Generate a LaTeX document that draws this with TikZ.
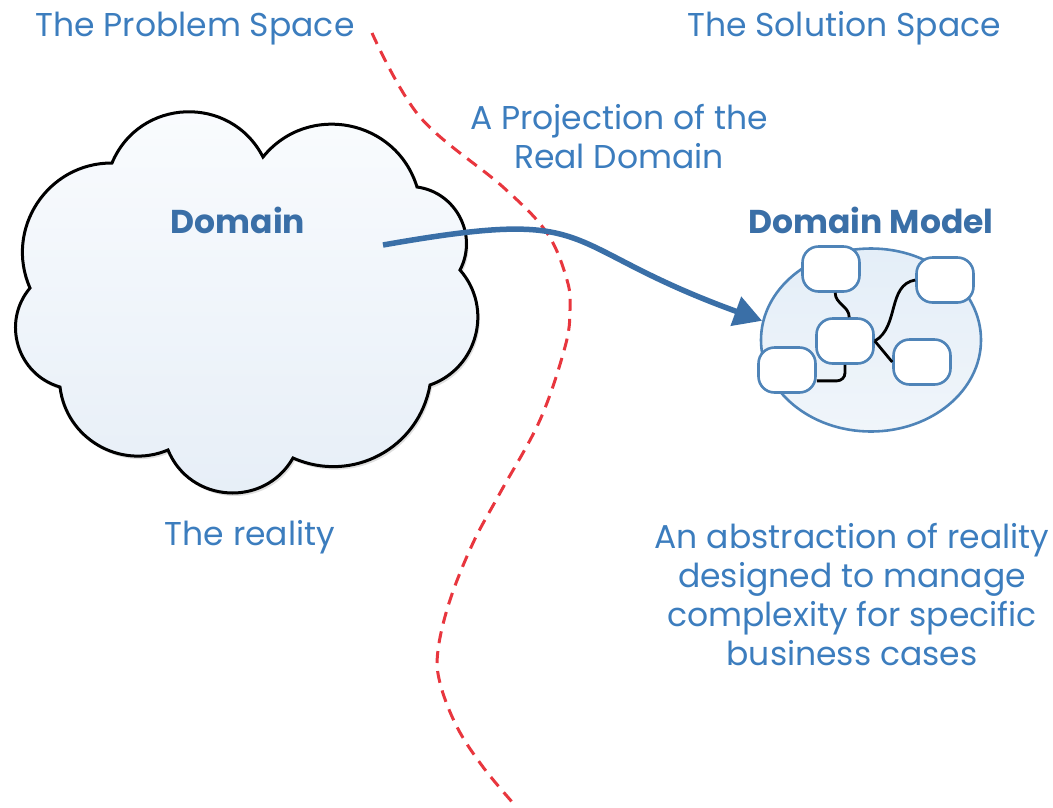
\documentclass[tikz,border=0pt]{standalone}
\usepackage{fontspec}
\setmainfont{Poppins}
\usetikzlibrary{shapes.geometric,arrows.meta,shadows}
\definecolor{txtblue}{HTML}{3C7DBE}
\definecolor{arrblue}{HTML}{3A6FA7}
\definecolor{boxblue}{HTML}{4F84B8}
\definecolor{cutred}{HTML}{E8363E}
\definecolor{cloudtop}{HTML}{FAFCFE}
\definecolor{cloudbot}{HTML}{E6EEF7}
\definecolor{modeltop}{HTML}{E4EEF8}
\definecolor{modelbot}{HTML}{F0F5FA}

\begin{document}
\begin{tikzpicture}[x=1pt,y=1pt,
	label/.style={text=txtblue, font=\fontsize{33}{39}\selectfont, align=center},
	title/.style={text=arrblue, font=\fontsize{33}{39}\selectfont\bfseries},
	entity/.style={draw=boxblue, line width=2.6pt, fill=white, rounded corners=16pt,
		minimum width=57pt, minimum height=45pt, inner sep=0pt},
	link/.style={black, line width=2.8pt}]
	\useasboundingbox (0,0) rectangle (1053,-807);
	
	% the cloud, cusp to cusp, clockwise
	\draw[black, line width=3pt, top color=cloudtop, bottom color=cloudbot,
		drop shadow={opacity=0.25, shadow xshift=2pt, shadow yshift=-3pt}]
		(112,-163) to[bend left=65, looseness=1.20] (263,-157)
		to[bend left=62, looseness=1.16] (417,-187)
		to[bend left=55, looseness=1.08] (460,-270)
		to[bend left=56, looseness=1.09] (430,-385)
		to[bend left=52, looseness=1.06] (293,-458)
		to[bend left=64, looseness=1.18] (168,-450)
		to[bend left=53, looseness=1.06] (60,-387)
		to[bend left=57, looseness=1.10] (30,-288)
		to[bend left=57, looseness=1.10] (112,-163) -- cycle;
	
	% border between the two spaces
	\draw[cutred, line width=3pt, dash pattern=on 12pt off 8pt]
		plot[smooth, tension=0.6] coordinates {(372,-33) (420,-117) (503,-187) (547,-233)
			(567,-280) (570,-310) (565,-347) (540,-420) (500,-493) (473,-543)
			(450,-600) (438,-650) (440,-683) (457,-727) (483,-767) (513,-803)};
	
	% the model
	\node[ellipse, draw=boxblue, line width=2.6pt, top color=modeltop, bottom color=modelbot,
		minimum width=220pt, minimum height=183pt] (model) at (871,-340) {};
	\foreach \n/\x/\y in {1/831/269, 2/945/280, 3/845/341, 4/787/370, 5/922/362}
		\node[entity] (e\n) at (\x,-\y) {};
	\draw[link] (e1.-80) to[out=-90, in=90] (e3.80);
	\draw[link] (e2.west) to[out=190, in=30] (e3.east);
	\draw[link] (e3.east) -- (e5.west);
	\draw[link, rounded corners=8pt] (e3.south) |- (e4.-20);
	
	% projection arrow
	\coordinate (src) at (383,-245);
	\draw[arrblue, line width=5.5pt, -{Triangle[length=28pt, width=30pt]}]
		(src) to[out=10, in=160, looseness=1.5] (model.170);
	
	% texts
	\node[label, anchor=base] (probsp) at (195,-36) {The Problem Space};
	\node[label, anchor=base] (solsp) at (844,-36) {The Solution Space};
	\node[label, anchor=base] (proj) at (619,-168) {A Projection of the\\Real Domain};
	\node[title, anchor=base] (dom) at (238,-233) {Domain};
	\node[title, anchor=base] (dmodel) at (871,-233) {Domain Model};
	\node[label, anchor=base] (real) at (250,-545) {The reality};
	\node[label, anchor=base] (abstr) at (852,-665) {An abstraction of reality\\designed to manage\\complexity for specific\\business cases};
\end{tikzpicture}
\end{document}
